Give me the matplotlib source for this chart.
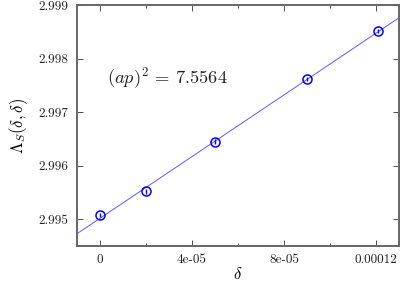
import numpy as np
import matplotlib
matplotlib.use("Agg")
import matplotlib.pyplot as plt

plt.rcParams['font.family'] = 'serif'
plt.rcParams['font.serif'] = ['cmr10', 'DejaVu Serif']
plt.rcParams['mathtext.fontset'] = 'cm'
plt.rcParams['axes.unicode_minus'] = False

delta = [0.0, 2e-5, 5e-5, 9e-5, 1.21e-4]
lam = [2.99508, 2.99552, 2.99645, 2.99762, 2.99851]
err = [0.00004, 0.00005, 0.00004, 0.00004, 0.00004]

xticks = [0, 4e-5, 8e-5, 1.2e-4]
xticklabels = ['0', '4e-05', '8e-05', '0.00012']
yticks = [2.995, 2.996, 2.997, 2.998, 2.999]
yticklabels = ['2.995', '2.996', '2.997', '2.998', '2.999']

fig = plt.figure(figsize=(4.01, 2.82), dpi=100)
ax = fig.add_axes([77/401, 1 - 246/282, (399 - 77)/401, (246 - 5)/282])

xlim = (-1e-5, 1.3e-4)
coef = np.polyfit(delta, lam, 1)
xs = np.array(xlim)
ax.plot(xs, np.polyval(coef, xs), color='#5a5aff', lw=0.7, zorder=2)
ax.errorbar(delta, lam, yerr=err, fmt='o', mfc='none', mec='#0000ff', ecolor='#0000ff',
            ms=6.5, mew=1.1, elinewidth=1.0, capsize=0, zorder=3)

ax.set_xlim(*xlim)
ax.set_ylim(2.9945, 2.999)
ax.set_xticks(xticks)
ax.set_xticklabels(xticklabels)
ax.set_xticks([2e-5, 6e-5, 1e-4], minor=True)
ax.set_yticks(yticks)
ax.set_yticklabels(yticklabels)

ax.tick_params(which='both', direction='in', top=True, right=True, labelsize=9.5,
               color='#333333', labelcolor='#222222', pad=6)
ax.tick_params(which='major', length=4, width=0.6)
ax.tick_params(which='minor', length=2, width=0.6)
for s in ax.spines.values():
    s.set_color('#666666')
    s.set_linewidth(1.4)

ax.set_xlabel(r'$\delta$', fontsize=12, labelpad=0)
ax.set_ylabel(r'$\Lambda_S(\delta,\delta)$', fontsize=12, labelpad=6)
ax.text(0.094, 0.672, r'$(ap)^2\,=\,7.5564$', transform=ax.transAxes, fontsize=13.3,
        color='#222222')

fig.savefig('out.png', dpi=100)
